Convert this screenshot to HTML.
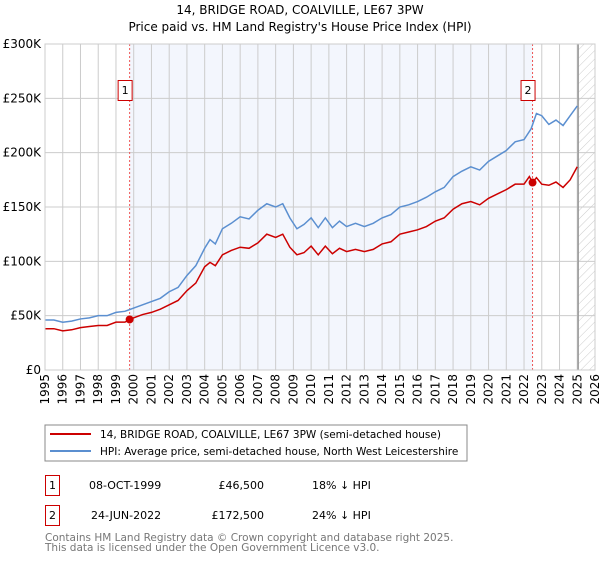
<!DOCTYPE html>
<html><head><meta charset="utf-8"><style>
body{margin:0;background:#fff;font-family:"DejaVu Sans","Liberation Sans",sans-serif;}
svg text{font-family:"DejaVu Sans","Liberation Sans",sans-serif;}
</style></head><body>
<svg id="c" width="600" height="560" xmlns="http://www.w3.org/2000/svg">
<defs><pattern id="hatch" width="6" height="6" patternUnits="userSpaceOnUse" patternTransform="rotate(45)"><line x1="0" y1="0" x2="0" y2="6" stroke="#ccc" stroke-width="1"/></pattern></defs>
<text x="300" y="14" text-anchor="middle" font-size="12">14, BRIDGE ROAD, COALVILLE, LE67 3PW</text>
<text x="300" y="31" text-anchor="middle" font-size="12">Price paid vs. HM Land Registry's House Price Index (HPI)</text>
<g id="plot"></g>
<rect x="45" y="425" width="422" height="36" fill="#fff" stroke="#888"/>
<line x1="50" y1="434" x2="91" y2="434" stroke="#cc0000" stroke-width="2"/>
<text x="100" y="438" font-size="10.5">14, BRIDGE ROAD, COALVILLE, LE67 3PW (semi-detached house)</text>
<line x1="50" y1="451" x2="91" y2="451" stroke="#5b8fd0" stroke-width="2"/>
<text x="100" y="455" font-size="10.5">HPI: Average price, semi-detached house, North West Leicestershire</text>
<g font-size="11">
<rect x="45.5" y="475.5" width="14" height="20" fill="#fff" stroke="#cc0000"/><text x="52.5" y="489" text-anchor="middle">1</text>
<text x="89" y="489">08-OCT-1999</text><text x="264" y="489" text-anchor="end">£46,500</text><text x="312" y="489">18% ↓ HPI</text>
<rect x="45.5" y="505.5" width="14" height="20" fill="#fff" stroke="#cc0000"/><text x="52.5" y="519" text-anchor="middle">2</text>
<text x="91" y="519">24-JUN-2022</text><text x="264" y="519" text-anchor="end">£172,500</text><text x="312" y="519">24% ↓ HPI</text>
</g>
<text x="45" y="541" font-size="10.5" fill="#777">Contains HM Land Registry data © Crown copyright and database right 2025.</text>
<text x="45" y="551" font-size="10.5" fill="#777">This data is licensed under the Open Government Licence v3.0.</text>
</svg>
<script>
const hpiYears=[1995,1995.5,1996,1996.5,1997,1997.5,1998,1998.5,1999,1999.5,2000,2000.5,2001,2001.5,2002,2002.5,2003,2003.5,2004,2004.3,2004.6,2005,2005.5,2006,2006.5,2007,2007.5,2008,2008.4,2008.8,2009.2,2009.6,2010,2010.4,2010.8,2011.2,2011.6,2012,2012.5,2013,2013.5,2014,2014.5,2015,2015.5,2016,2016.5,2017,2017.5,2018,2018.5,2019,2019.5,2020,2020.5,2021,2021.5,2022,2022.4,2022.7,2023,2023.4,2023.8,2024.2,2024.6,2025];
const hpiValues=[46,46,44,45,47,48,50,50,53,54,57,60,63,66,72,76,87,96,112,120,116,130,135,141,139,147,153,150,153,140,130,134,140,131,140,131,137,132,135,132,135,140,143,150,152,155,159,164,168,178,183,187,184,192,197,202,210,212,222,236,234,226,230,225,234,243];
const ppYears=[1995,1995.5,1996,1996.5,1997,1997.5,1998,1998.5,1999,1999.5,2000,2000.5,2001,2001.5,2002,2002.5,2003,2003.5,2004,2004.3,2004.6,2005,2005.5,2006,2006.5,2007,2007.5,2008,2008.4,2008.8,2009.2,2009.6,2010,2010.4,2010.8,2011.2,2011.6,2012,2012.5,2013,2013.5,2014,2014.5,2015,2015.5,2016,2016.5,2017,2017.5,2018,2018.5,2019,2019.5,2020,2020.5,2021,2021.5,2022,2022.3,2022.48,2022.7,2023,2023.4,2023.8,2024.2,2024.6,2025];
const ppValues=[38,38,36,37,39,40,41,41,44,44,48,51,53,56,60,64,73,80,95,99,96,106,110,113,112,117,125,122,125,113,106,108,114,106,114,107,112,109,111,109,111,116,118,125,127,129,132,137,140,148,153,155,152,158,162,166,171,171,178,172.5,177,171,170,173,168,175,187];
const sales=[{n:"1",year:1999.77,value:46.5},{n:"2",year:2022.48,value:172.5}];
const yTicks=[0,50,100,150,200,250,300];
const yTickLabels=["£0","£50K","£100K","£150K","£200K","£250K","£300K"];
const xTicks=[];for(let y=1995;y<=2026;y++)xTicks.push(y);

const X0=45,X1=595,Y0=370,Y1=44;
const xs=y=>X0+(y-1995)/(2026-1995)*(X1-X0);
const ys=v=>Y0-v/300*(Y0-Y1);
const NS="http://www.w3.org/2000/svg";
const g=document.getElementById('plot');
function mk(t,a){const e=document.createElementNS(NS,t);for(const k in a)e.setAttribute(k,a[k]);g.appendChild(e);return e;}
let e;
e=mk('rect',{x:xs(sales[0].year),y:Y1,width:xs(sales[1].year)-xs(sales[0].year),height:Y0-Y1,fill:'#eef2fc',opacity:0.7});


e=mk('rect',{x:xs(2025.05),y:Y1,width:X1-xs(2025.05),height:Y0-Y1,fill:'url(#hatch)'});


yTicks.forEach((t,i)=>{
 e=mk('line',{x1:X0,x2:X1,y1:ys(t),y2:ys(t),stroke:'#ccc','stroke-width':1});
 
 
 e=mk('text',{x:X0-4,y:ys(t)+4,'text-anchor':'end','font-size':12});
 e.textContent=yTickLabels[i];
 
 
});
xTicks.forEach(t=>{
 e=mk('line',{x1:xs(t),x2:xs(t),y1:Y1,y2:Y0,stroke:'#ccc','stroke-width':1});
 
 
 e=mk('text',{x:0,y:0,'text-anchor':'end','font-size':12,transform:`translate(${xs(t)+4},${Y0+4}) rotate(-90)`});
 e.textContent=t;
 
 
});
e=mk('line',{x1:xs(2025.05),x2:xs(2025.05),y1:Y1,y2:Y0,stroke:'#999','stroke-width':1.5});


sales.forEach(s=>{
 e=mk('line',{x1:xs(s.year),x2:xs(s.year),y1:Y1,y2:Y0,stroke:'#e55','stroke-width':1,'stroke-dasharray':'2,2'});
 
 
});
e=mk('polyline',{points:hpiYears.map((y,i)=>xs(y)+','+ys(hpiValues[i])).join(' '),fill:'none',stroke:'#5b8fd0','stroke-width':1.5});


e=mk('polyline',{points:ppYears.map((y,i)=>xs(y)+','+ys(ppValues[i])).join(' '),fill:'none',stroke:'#cc0000','stroke-width':1.5});


sales.forEach(s=>{
 e=mk('circle',{cx:xs(s.year),cy:ys(s.value),r:4,fill:'#cc0000'});
 
 
 e=mk('rect',{x:xs(s.year)-11.5,y:80.5,width:14,height:20,fill:'#fff',stroke:'#cc0000'});
 
 
 e=mk('text',{x:xs(s.year)-4.5,y:94,'text-anchor':'middle','font-size':11});
 e.textContent=s.n;
 
 
});
e=mk('rect',{x:X0,y:Y1,width:X1-X0,height:Y0-Y1,fill:'none',stroke:'#ccc'});


</script>
</body></html>
